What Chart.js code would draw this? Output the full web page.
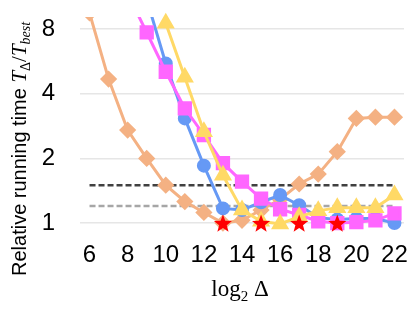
<!DOCTYPE html>
<html>
<head>
<meta charset="utf-8">
<script src="https://cdn.jsdelivr.net/npm/chart.js@4/dist/chart.umd.min.js"></script>
<style>
  html, body { margin: 0; padding: 0; background: #fff; }
  canvas { display: block; }
</style>
</head>
<body>
<canvas id="runChart" width="415" height="312"></canvas>
<script>
// log2 Delta values on the x axis
const xValues = [6, 7, 8, 9, 10, 11, 12, 13, 14, 15, 16, 17, 18, 19, 20, 21, 22];
const xTicks = [6, 8, 10, 12, 14, 16, 18, 20, 22];
const yTicks = [1, 2, 4, 8];

// relative running time per series
const orangeValues = [9.5, 4.68, 2.71, 2.0, 1.50, 1.26, 1.12, 1.0, 1.03, 1.15, 1.29, 1.52, 1.69, 2.15, 3.07, 3.11, 3.11];
const blueValues = [null, null, null, 11, 5.53, 3.07, 1.85, 1.17, 1.15, 1.25, 1.35, 1.21, 1.06, 1.04, 1.05, 1.05, 1.0];
const magentaValues = [null, null, 11.7, 7.71, 5.06, 3.42, 2.57, 1.90, 1.56, 1.30, 1.16, 1.09, 1.02, 1.0, 1.01, 1.03, 1.11];
const yellowValues = [null, null, null, null, 8.5, 4.77, 2.66, 1.67, 1.15, 1.02, 0.99, 1.07, 1.14, 1.18, 1.18, 1.18, 1.35];

// best points (red stars) and the two reference levels
const starX = [13, 15, 17, 19];
const starY = [0.99, 0.99, 0.99, 0.99];
const darkLevel = 1.5;
const grayLevel = 1.2;
const levelRange = [6, 22];

function toPoints(values) {
    return xValues.map((x, i) => ({ x: x, y: values[i] }));
}

// draw a run of text pieces (font changes, subscripts) one after another
function drawRun(ctx, parts, x, y) {
    let cx = x;
    parts.forEach(p => {
        ctx.font = p.font;
        ctx.fillText(p.text, cx, y + (p.dy || 0));
        cx += ctx.measureText(p.text).width;
    });
}

function runWidth(ctx, parts) {
    let w = 0;
    parts.forEach(p => {
        ctx.font = p.font;
        w += ctx.measureText(p.text).width;
    });
    return w;
}

// filled stars on top of the star dataset's points
const starMarks = {
    id: "starMarks",
    afterDatasetsDraw(chart) {
        const ctx = chart.ctx;
        const meta = chart.getDatasetMeta(0);
        ctx.save();
        ctx.fillStyle = "#ff0000";
        meta.data.forEach(pt => {
            ctx.beginPath();
            for (let i = 0; i < 10; i++) {
                let r = i % 2 === 0 ? 9.5 : 4;
                let a = -Math.PI / 2 + i * Math.PI / 5;
                ctx.lineTo(pt.x + Math.cos(a) * r, pt.y + Math.sin(a) * r);
            }
            ctx.closePath();
            ctx.fill();
        });
        ctx.restore();
    }
};

const axisTitles = {
    id: "axisTitles",
    afterDraw(chart) {
        const ctx = chart.ctx;
        ctx.save();
        ctx.fillStyle = "#000";
        ctx.textBaseline = "alphabetic";
        ctx.textAlign = "left";

        let xParts = [
            { text: "log", font: "23px 'Liberation Serif'" },
            { text: "2", font: "15px 'Liberation Serif'", dy: 5 },
            { text: " \u0394", font: "23px 'Liberation Serif'" }
        ];
        let w = runWidth(ctx, xParts);
        drawRun(ctx, xParts, 240 - w / 2, 296);

        let yParts = [
            { text: "Relative running time ", font: "20px 'Liberation Sans'" },
            { text: "T", font: "italic 21px 'Liberation Serif'" },
            { text: "\u0394", font: "14px 'Liberation Serif'", dy: 4 },
            { text: "/", font: "21px 'Liberation Serif'" },
            { text: "T", font: "italic 21px 'Liberation Serif'" },
            { text: "best", font: "italic 14px 'Liberation Serif'", dy: 4 }
        ];
        ctx.translate(26, 276);
        ctx.rotate(-Math.PI / 2);
        drawRun(ctx, yParts, 0, 0);
        ctx.restore();
    }
};

const lineWidth = 3;

let runChart = new Chart(document.getElementById("runChart"), {
    type: "line",
    data: {
        datasets: [
            {
                data: starX.map((x, i) => ({ x: x, y: starY[i] })),
                showLine: false,
                pointRadius: 0,
                order: 0
            },
            {
                data: toPoints(yellowValues),
                borderColor: "#ffd966",
                backgroundColor: "#ffd966",
                borderWidth: lineWidth,
                pointStyle: "triangle",
                pointRadius: 7.5,
                order: 1,
                clip: 8
            },
            {
                data: toPoints(magentaValues),
                borderColor: "#ff66ff",
                backgroundColor: "#ff66ff",
                borderWidth: lineWidth,
                pointStyle: "rect",
                pointRadius: 8,
                order: 2,
                clip: 0
            },
            {
                data: toPoints(blueValues),
                borderColor: "#6699f5",
                backgroundColor: "#6699f5",
                borderWidth: lineWidth,
                pointStyle: "circle",
                pointRadius: 5.5,
                order: 3,
                clip: 0
            },
            {
                data: toPoints(orangeValues),
                borderColor: "#f4b183",
                backgroundColor: "#f4b183",
                borderWidth: lineWidth,
                pointStyle: "rectRot",
                pointRadius: 6.5,
                order: 4,
                clip: 0
            },
            {
                data: levelRange.map(x => ({ x: x, y: darkLevel })),
                borderColor: "#404040",
                borderWidth: 2.5,
                borderDash: [6, 3],
                pointRadius: 0,
                order: 5
            },
            {
                data: levelRange.map(x => ({ x: x, y: grayLevel })),
                borderColor: "#a6a6a6",
                borderWidth: 2.5,
                borderDash: [6, 3],
                pointRadius: 0,
                order: 6
            }
        ]
    },
    options: {
        responsive: false,
        animation: false,
        devicePixelRatio: 1,
        layout: { padding: { top: 17, right: 9, left: 0, bottom: 0 } },
        plugins: {
            legend: { display: false },
            tooltip: { enabled: false }
        },
        elements: {
            line: { tension: 0 },
            point: { borderWidth: 0 }
        },
        scales: {
            x: {
                type: "linear",
                min: 5.5,
                max: 22.5,
                afterBuildTicks: scale => { scale.ticks = xTicks.map(v => ({ value: v })); },
                afterFit: scale => {
                    scale.height = 77;
                    scale.paddingLeft = 0;
                    scale.paddingRight = 0;
                },
                grid: { display: false, drawTicks: false },
                border: { display: false },
                ticks: {
                    color: "#000",
                    padding: 6,
                    maxRotation: 0,
                    autoSkip: false,
                    font: { family: "'Liberation Sans'", size: 24 }
                }
            },
            y: {
                type: "logarithmic",
                min: 0.88,
                max: 9.1,
                afterBuildTicks: scale => { scale.ticks = yTicks.map(v => ({ value: v })); },
                afterFit: scale => {
                    scale.width = 80;
                    scale.paddingTop = 0;
                    scale.paddingBottom = 0;
                },
                grid: { color: "#e6e6e6", lineWidth: 1.5, drawTicks: false },
                border: { display: false },
                ticks: {
                    color: "#000",
                    padding: 25,
                    callback: v => String(v),
                    font: { family: "'Liberation Sans'", size: 24 }
                }
            }
        }
    },
    plugins: [starMarks, axisTitles]
});
</script>
</body>
</html>
